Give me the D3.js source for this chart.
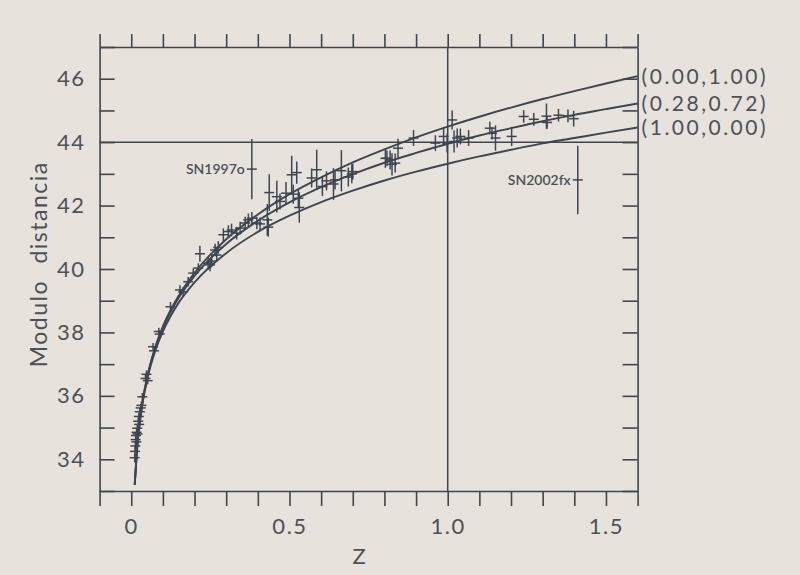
<!DOCTYPE html>
<html>
<head>
<meta charset="utf-8">
<script src="https://cdn.jsdelivr.net/npm/d3@7"></script>
<style>
  html, body { margin: 0; padding: 0; background: #e7e3dc; }
  svg { display: block; }
  text { font-family: Lato, "Open Sans", sans-serif; fill: #4b5159; }
</style>
</head>
<body>
<svg id="chart" width="800" height="575"></svg>
<script>
// ---------- data ----------
const curveZ = [0.011, 0.02, 0.03, 0.05, 0.075, 0.1, 0.15, 0.2, 0.3, 0.4, 0.5, 0.6, 0.7, 0.8, 0.9, 1.0, 1.1, 1.2, 1.3, 1.4, 1.5, 1.6];
const muOm0OL1 = [33.20, 34.53, 35.43, 36.58, 37.51, 38.19, 39.16, 39.88, 40.94, 41.72, 42.36, 42.89, 43.36, 43.77, 44.15, 44.49, 44.80, 45.09, 45.36, 45.61, 45.85, 46.08];
const muOm28OL72 = [33.20, 34.52, 35.42, 36.56, 37.48, 38.14, 39.09, 39.78, 40.79, 41.52, 42.10, 42.58, 42.99, 43.35, 43.66, 43.95, 44.21, 44.44, 44.66, 44.86, 45.04, 45.22];
const muOm1OL0 = [33.19, 34.50, 35.38, 36.50, 37.39, 38.03, 38.94, 39.58, 40.50, 41.17, 41.68, 42.11, 42.47, 42.79, 43.07, 43.32, 43.55, 43.76, 43.96, 44.13, 44.30, 44.46];
const modelLabels = ["(0.00,1.00)", "(0.28,0.72)", "(1.00,0.00)"];

const snZ = [0.011, 0.012, 0.013, 0.014, 0.015, 0.016, 0.017, 0.019, 0.020, 0.022, 0.024, 0.025, 0.027, 0.030, 0.032, 0.035,
  0.045, 0.048, 0.052, 0.069, 0.072, 0.087, 0.090, 0.124, 0.154, 0.164, 0.180, 0.196, 0.212, 0.217, 0.243, 0.249, 0.254,
  0.265, 0.270, 0.275, 0.291, 0.307, 0.317, 0.333, 0.344, 0.360, 0.370, 0.381, 0.397, 0.407, 0.430, 0.433, 0.436, 0.460,
  0.470, 0.489, 0.507, 0.512, 0.523, 0.528, 0.531, 0.570, 0.586, 0.604, 0.617, 0.639, 0.644, 0.664, 0.686, 0.697, 0.700,
  0.803, 0.808, 0.818, 0.824, 0.834, 0.843, 0.892, 0.961, 0.987, 0.998, 1.014, 1.020, 1.030, 1.040, 1.066, 1.133, 1.140,
  1.151, 1.202, 1.240, 1.272, 1.312, 1.314, 1.350, 1.380, 1.398];
const snMu = [34.05, 34.25, 34.42, 34.62, 34.75, 34.55, 34.85, 34.98, 34.80, 35.20, 35.35, 35.10, 35.50, 35.62, 35.70, 35.97,
  36.55, 36.68, 36.48, 37.55, 37.42, 38.03, 37.95, 38.81, 39.34, 39.28, 39.60, 39.87, 40.03, 40.48, 40.18, 40.13, 40.25,
  40.60, 40.44, 40.68, 41.08, 41.18, 41.23, 41.13, 41.29, 41.45, 41.55, 41.60, 41.45, 41.42, 41.55, 41.32, 42.41, 42.28,
  42.13, 42.39, 42.97, 42.36, 43.04, 42.23, 41.94, 42.87, 43.13, 42.60, 42.78, 42.68, 42.81, 43.10, 42.90, 43.00, 43.07,
  43.49, 43.49, 43.44, 43.30, 43.34, 43.81, 44.13, 43.97, 44.18, 43.97, 44.70, 44.02, 44.13, 44.18, 44.13, 44.44, 44.28,
  44.13, 44.18, 44.81, 44.72, 44.82, 44.62, 44.85, 44.83, 44.74];
const snErr = [0.15, 0.15, 0.15, 0.12, 0.12, 0.12, 0.12, 0.12, 0.12, 0.12, 0.12, 0.12, 0.12, 0.12, 0.12, 0.12,
  0.12, 0.12, 0.12, 0.12, 0.12, 0.12, 0.12, 0.15, 0.15, 0.15, 0.15, 0.15, 0.15, 0.25, 0.2, 0.2, 0.2,
  0.2, 0.2, 0.2, 0.2, 0.2, 0.2, 0.2, 0.2, 0.2, 0.2, 0.2, 0.2, 0.2, 0.5, 0.3, 0.58, 0.5,
  0.25, 0.35, 0.6, 0.3, 0.35, 0.3, 0.48, 0.3, 0.63, 0.3, 0.3, 0.5, 0.3, 0.65, 0.3, 0.3, 0.25,
  0.3, 0.25, 0.3, 0.35, 0.3, 0.3, 0.25, 0.25, 0.3, 0.3, 0.3, 0.35, 0.3, 0.25, 0.25, 0.2, 0.2,
  0.4, 0.3, 0.2, 0.2, 0.4, 0.2, 0.2, 0.2, 0.25];

const labeledNames = ["SN1997o", "SN2002fx"];
const labeledZ = [0.381, 1.411];
const labeledMu = [43.15, 42.81];
const labeledErr = [0.95, 1.08];

const xTicks = d3.range(-0.1, 1.6001, 0.1).map(v => Math.round(v * 10) / 10);
const xTickLabels = {"0": "0", "0.5": "0.5", "1": "1.0", "1.5": "1.5"};
const yTicks = d3.range(33, 48, 1);
const yTickLabels = [34, 36, 38, 40, 42, 44, 46];

// ---------- chart ----------
const ink = "#3d4650";
const svg = d3.select("#chart");
const x = d3.scaleLinear().domain([-0.1, 1.6]).range([99.6, 637.6]);
const y = d3.scaleLinear().domain([33, 47]).range([491, 47]);

function styleAxis(g) {
  g.selectAll("path, line").attr("stroke", ink).attr("stroke-width", 1.6);
  g.selectAll("text").attr("fill", "#4b5159").style("font-family", "Lato, 'Open Sans', sans-serif");
}

// bottom axis
const gB = svg.append("g").attr("transform", `translate(0,${y(33)})`)
  .call(d3.axisBottom(x).tickValues(xTicks).tickSize(15).tickSizeOuter(0).tickPadding(12)
    .tickFormat(d => xTickLabels[String(d)] || ""));
styleAxis(gB);
gB.selectAll("text").attr("font-size", 22).attr("dy", "0.71em").style("letter-spacing", "1.5px");

// top axis
const gT = svg.append("g").attr("transform", `translate(0,${y(47)})`)
  .call(d3.axisTop(x).tickValues(xTicks).tickSize(13).tickSizeOuter(0).tickFormat(""));
styleAxis(gT);

// left axis (ticks pointing inward)
const gL = svg.append("g").attr("transform", `translate(${x(-0.1)},0)`)
  .call(d3.axisLeft(y).tickValues(yTicks).tickSize(-15).tickSizeOuter(0).tickPadding(14)
    .tickFormat(d => yTickLabels.includes(d) ? String(d) : ""));
styleAxis(gL);
gL.selectAll("text").attr("font-size", 22).style("letter-spacing", "1.5px");

// right axis (ticks pointing inward)
const gR = svg.append("g").attr("transform", `translate(${x(1.6)},0)`)
  .call(d3.axisRight(y).tickValues(yTicks).tickSize(-15).tickSizeOuter(0).tickFormat(""));
styleAxis(gR);

// reference lines: mu = 44 and z = 1.0
svg.append("line").attr("x1", x(-0.1)).attr("x2", x(1.6)).attr("y1", y(44)).attr("y2", y(44))
  .attr("stroke", ink).attr("stroke-width", 1.5);
svg.append("line").attr("x1", x(1.0)).attr("x2", x(1.0)).attr("y1", y(47)).attr("y2", y(33))
  .attr("stroke", ink).attr("stroke-width", 1.5);

// axis titles
svg.append("text").attr("x", x(0.72)).attr("y", 564).attr("text-anchor", "middle")
  .attr("font-size", 22).text("Z");
svg.append("text").attr("transform", `translate(47,${y(40.15)}) rotate(-90)`).attr("text-anchor", "middle")
  .attr("font-size", 23).style("letter-spacing", "1.5px").style("word-spacing", "9px").text("Modulo distancia");

// model curves
const line = d3.line().x(d => x(d[0])).y(d => y(d[1])).curve(d3.curveMonotoneX);
const models = [muOm0OL1, muOm28OL72, muOm1OL0];
models.forEach((mu, i) => {
  svg.append("path").datum(curveZ.map((z, j) => [z, mu[j]]))
    .attr("d", line).attr("fill", "none").attr("stroke", ink).attr("stroke-width", 1.9);
  svg.append("text").attr("x", x(1.6) + 4).attr("y", y(mu[mu.length - 1]))
    .attr("dy", "0.35em").attr("font-size", 21).style("letter-spacing", "2.5px").text(modelLabels[i]);
});

// data crosses
const half = 5;
const pts = snZ.map((z, i) => ({z, mu: snMu[i], e: snErr[i]}));
const gP = svg.append("g").attr("stroke", ink).attr("stroke-width", 1.5);
gP.selectAll("line.v").data(pts).join("line").attr("class", "v")
  .attr("x1", d => x(d.z)).attr("x2", d => x(d.z))
  .attr("y1", d => y(d.mu - d.e)).attr("y2", d => y(d.mu + d.e));
gP.selectAll("line.h").data(pts).join("line").attr("class", "h")
  .attr("x1", d => x(d.z) - half).attr("x2", d => x(d.z) + half)
  .attr("y1", d => y(d.mu)).attr("y2", d => y(d.mu));

// labeled supernovae
const lab = labeledNames.map((n, i) => ({n, z: labeledZ[i], mu: labeledMu[i], e: labeledErr[i]}));
gP.selectAll("line.lv").data(lab).join("line").attr("class", "lv")
  .attr("x1", d => x(d.z)).attr("x2", d => x(d.z))
  .attr("y1", d => y(d.mu - d.e)).attr("y2", d => y(d.mu + d.e));
gP.selectAll("line.lh").data(lab).join("line").attr("class", "lh")
  .attr("x1", d => x(d.z) - half).attr("x2", d => x(d.z) + half)
  .attr("y1", d => y(d.mu)).attr("y2", d => y(d.mu));
svg.selectAll("text.sn").data(lab).join("text").attr("class", "sn")
  .attr("x", d => x(d.z) - 7).attr("y", d => y(d.mu)).attr("dy", "0.35em")
  .attr("text-anchor", "end").attr("font-size", 14).attr("font-weight", 600).text(d => d.n);
</script>
</body>
</html>
